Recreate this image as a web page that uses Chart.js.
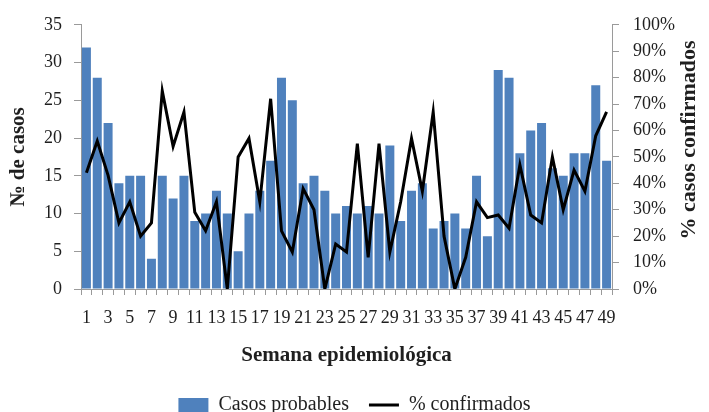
<!DOCTYPE html>
<html>
<head>
<meta charset="utf-8">
<script src="https://cdn.jsdelivr.net/npm/chart.js@4.4.1/dist/chart.umd.min.js"></script>
<style>
html,body{margin:0;padding:0;background:#fff;overflow:hidden;}
#wrap{width:709px;height:425px;}
</style>
</head>
<body>
<div id="wrap"><canvas id="c" width="709" height="425"></canvas></div>
<script>
const weeks = [1,2,3,4,5,6,7,8,9,10,11,12,13,14,15,16,17,18,19,20,21,22,23,24,25,26,27,28,29,30,31,32,33,34,35,36,37,38,39,40,41,42,43,44,45,46,47,48,49];
const casosProbables = [32,28,22,14,15,15,4,15,12,15,9,10,13,10,5,10,13,17,28,25,14,15,13,10,11,10,11,10,19,9,13,14,8,9,10,8,15,7,29,28,18,21,22,16,15,18,18,27,17];
const pctConfirmados = [44,56,43,25,33,20,25,75,54,67,29,22,33,0,50,57,33,72,22,14,38,30,0,17,14,55,12,55,14,33,57,37,67,20,0,12,33,27,28,23,47,28,25,50,30,45,37,58,67];
const leftTicks = {min:0, max:35, step:5};
const rightTicks = {min:0, max:100, step:10};

const FONT = "'Liberation Serif', 'Times New Roman', serif";
const TXT = '#1f1f1f';
const AXIS = '#9a9a9a';

const rightTitle = {
  id: 'rightTitle',
  afterDraw(chart) {
    const ctx = chart.ctx;
    ctx.save();
    ctx.translate(689, 140);
    ctx.rotate(-Math.PI/2);
    ctx.font = "bold 22px " + FONT;
    ctx.fillStyle = TXT;
    ctx.textAlign = 'center';
    ctx.textBaseline = 'middle';
    ctx.fillText('% casos confirmados', 0, 0);
    ctx.restore();
  }
};

new Chart(document.getElementById('c'), {
  data: {
    labels: weeks.map(String),
    datasets: [
      {
        type: 'bar',
        label: 'Casos probables',
        data: casosProbables,
        backgroundColor: '#4F81BD',
        borderWidth: 0,
        yAxisID: 'y',
        order: 1,
        pointStyle: 'rect',
        categoryPercentage: 1,
        barPercentage: 0.83
      },
      {
        type: 'line',
        label: '% confirmados',
        data: pctConfirmados,
        borderColor: '#000',
        backgroundColor: '#000',
        borderWidth: 3,
        pointRadius: 0,
        pointStyle: 'line',
        tension: 0,
        yAxisID: 'y1',
        order: 0
      }
    ]
  },
  options: {
    responsive: false,
    animation: false,
    devicePixelRatio: 1,
    layout: { padding: { top: 23, left: 0, right: 0, bottom: 0 } },
    plugins: {
      tooltip: { enabled: false },
      legend: {
        position: 'bottom',
        labels: {
          sort: (a, b) => a.datasetIndex - b.datasetIndex,
          usePointStyle: true,
          pointStyleWidth: 30,
          boxHeight: 14,
          padding: 20,
          color: TXT,
          font: { family: FONT, size: 20 }
        }
      }
    },
    scales: {
      x: {
        offset: true,
        grid: { display: true, offset: true, drawOnChartArea: false, drawTicks: true, tickLength: 6, color: AXIS },
        border: { display: true, color: AXIS, width: 1 },
        ticks: {
          autoSkip: false, maxRotation: 0, minRotation: 0, padding: 12,
          color: TXT, font: { family: FONT, size: 18 },
          callback: (v, i) => (i % 2 === 0 ? String(weeks[i]) : '')
        },
        title: { display: true, text: 'Semana epidemiológica', color: TXT, font: { family: FONT, size: 21, weight: 'bold' }, padding: { top: 0, bottom: 7 } },
        afterFit: s => { s.height = 86; }
      },
      y: {
        position: 'left',
        min: leftTicks.min, max: leftTicks.max,
        grid: { display: true, drawOnChartArea: false, drawTicks: true, tickLength: 7, color: AXIS },
        border: { display: true, color: AXIS, width: 1 },
        ticks: { stepSize: leftTicks.step, padding: 12, color: TXT, font: { family: FONT, size: 18 } },
        title: { display: true, text: '№ de casos', color: TXT, font: { family: FONT, size: 21, weight: 'bold' }, padding: { top: 6, bottom: 0 } },
        afterFit: s => { s.width = 81; }
      },
      y1: {
        position: 'right',
        min: rightTicks.min, max: rightTicks.max,
        grid: { display: true, drawOnChartArea: false, drawTicks: true, tickLength: 7, color: AXIS },
        border: { display: true, color: AXIS, width: 1 },
        ticks: { stepSize: rightTicks.step, padding: 14, color: TXT, font: { family: FONT, size: 18 }, callback: v => v + '%' },
        afterFit: s => { s.width = 97; }
      }
    }
  },
  plugins: [rightTitle]
});
</script>
</body>
</html>
